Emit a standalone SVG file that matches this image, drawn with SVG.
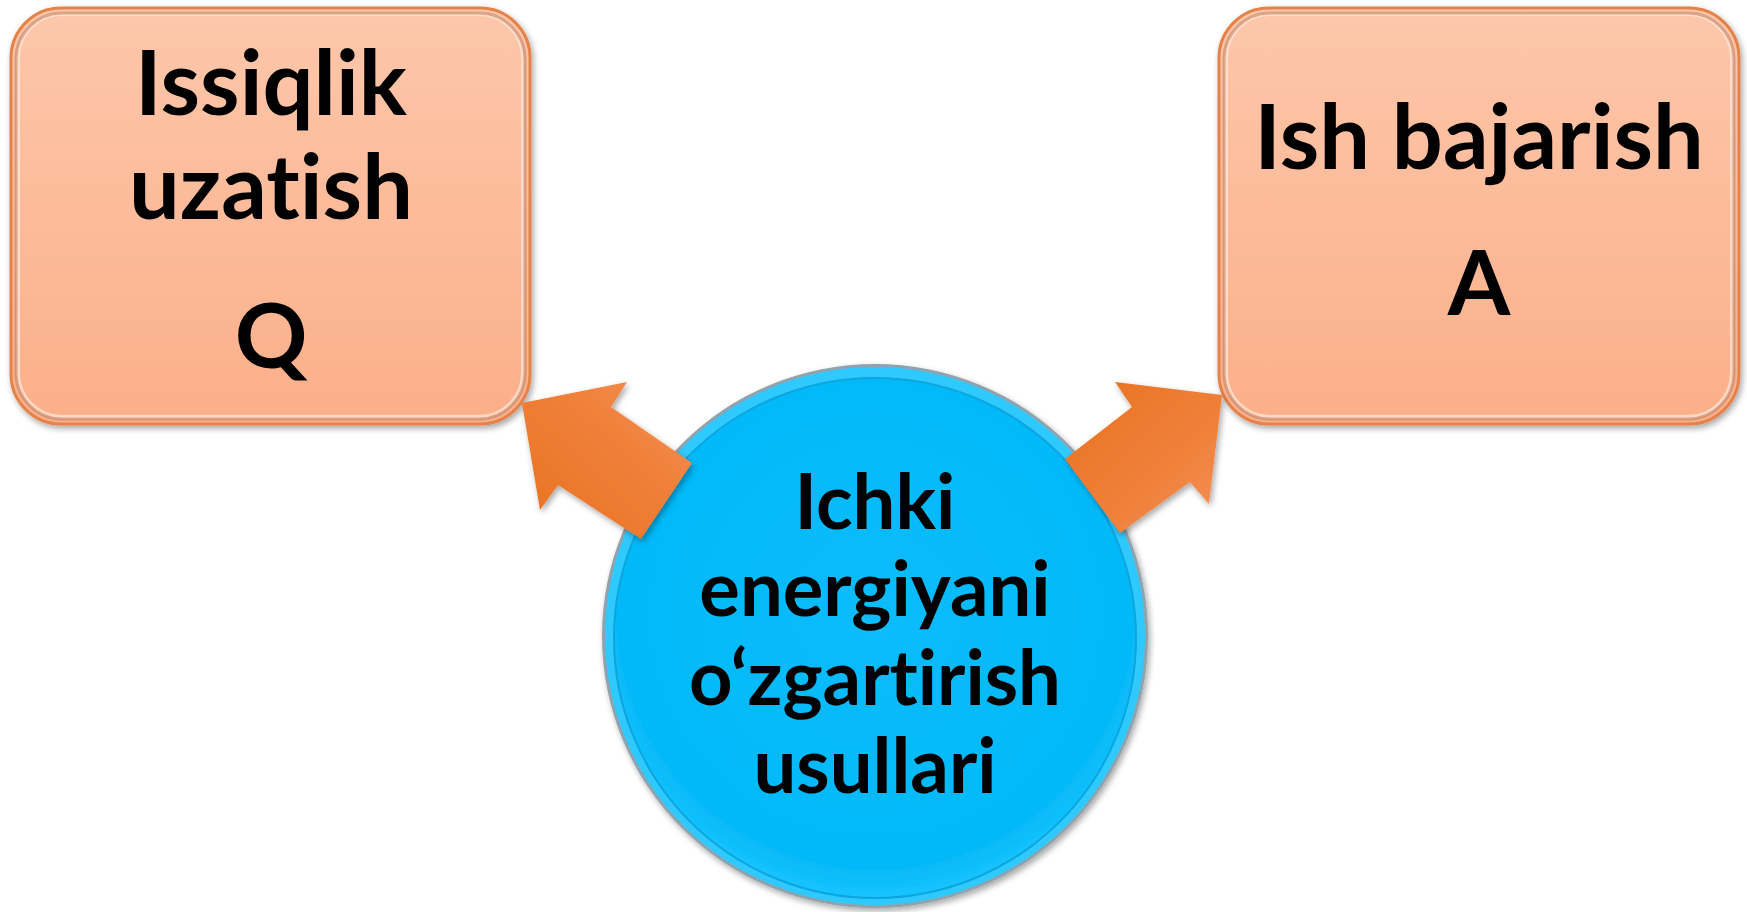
<svg xmlns="http://www.w3.org/2000/svg" width="1747" height="912" viewBox="0 0 1747 912">
<defs>
<linearGradient id="boxFill" x1="0" y1="0" x2="0" y2="1">
<stop offset="0" stop-color="#FDC7AB"/>
<stop offset="1" stop-color="#FBAF89"/>
</linearGradient>
<linearGradient id="arrowFillL" x1="0" y1="1" x2="1" y2="0">
<stop offset="0" stop-color="#E8721F"/>
<stop offset="0.6" stop-color="#F0803A"/>
<stop offset="1" stop-color="#F39258"/>
</linearGradient>
<linearGradient id="arrowFillR" x1="0" y1="0" x2="1" y2="1">
<stop offset="0" stop-color="#E8721F"/>
<stop offset="0.6" stop-color="#F0803A"/>
<stop offset="1" stop-color="#F39258"/>
</linearGradient>
<radialGradient id="circFill" cx="0.5" cy="0.45" r="0.55">
<stop offset="0" stop-color="#07BCFC"/>
<stop offset="0.9" stop-color="#06B9F8"/>
<stop offset="1" stop-color="#17C4FF"/>
</radialGradient>
<filter id="shadow" x="-10%" y="-10%" width="120%" height="120%">
<feGaussianBlur in="SourceAlpha" stdDeviation="3"/>
<feOffset dx="2" dy="3" result="b"/>
<feComponentTransfer><feFuncA type="linear" slope="0.35"/></feComponentTransfer>
<feMerge><feMergeNode/><feMergeNode in="SourceGraphic"/></feMerge>
</filter>
</defs>
<style>
.box{fill:url(#boxFill);stroke:#E5824A;stroke-width:3}
.bevelHi{fill:none;stroke:#FFE3D3;stroke-width:4;opacity:0.8}
.bevelLo{fill:none;stroke:#B9785A;stroke-width:3;opacity:0.55}
.lbl{font-family:Lato,"Open Sans","Liberation Sans",sans-serif;font-weight:700;fill:#000;text-anchor:middle;font-variant-ligatures:none;font-feature-settings:"liga" 0}
.big{font-size:90px}
.mid{font-size:76px}
</style>
<rect width="1747" height="912" fill="#FFFFFF"/>

<g id="center-node" filter="url(#shadow)">
<ellipse cx="875" cy="636" rx="273" ry="272" fill="#8FA3AE"/>
<ellipse cx="875" cy="636" rx="270" ry="269" fill="#2FC9FF"/>
<ellipse cx="875" cy="638" rx="261" ry="260" fill="url(#circFill)" stroke="#0AA5DD" stroke-width="2"/>
<text class="lbl mid" x="875" y="529">Ichki</text>
<text class="lbl mid" x="875" y="616">energiyani</text>
<text class="lbl mid" x="875" y="705">o‘zgartirish</text>
<text class="lbl mid" x="875" y="793">usullari</text>
</g>

<g id="node-issiqlik" filter="url(#shadow)">
<rect class="box" x="11" y="8" width="519" height="416" rx="50"/>
<rect class="bevelHi" x="18" y="14" width="505" height="403" rx="44"/>
<rect class="bevelLo" x="16" y="13" width="509" height="406" rx="46"/>
<text class="lbl big" x="271" y="115">Issiqlik</text>
<text class="lbl big" x="271" y="219">uzatish</text>
<text class="lbl big" x="271" y="368">Q</text>
</g>

<g id="node-ish" filter="url(#shadow)">
<rect class="box" x="1219" y="8" width="520" height="416" rx="50"/>
<rect class="bevelHi" x="1226" y="14" width="506" height="403" rx="44"/>
<rect class="bevelLo" x="1224" y="13" width="510" height="406" rx="46"/>
<text class="lbl big" x="1479" y="169">Ish bajarish</text>
<text class="lbl big" x="1479" y="315">A</text>
</g>

<g id="connectors" filter="url(#shadow)">
<polygon points="522,403 627,382 611,407 692,463 641,539 558,485 540,510" fill="url(#arrowFillL)"/>
<polygon points="1222,395 1115,382 1132,407 1065,459 1120,533 1190,482 1209,504" fill="url(#arrowFillR)"/>
</g>
</svg>
